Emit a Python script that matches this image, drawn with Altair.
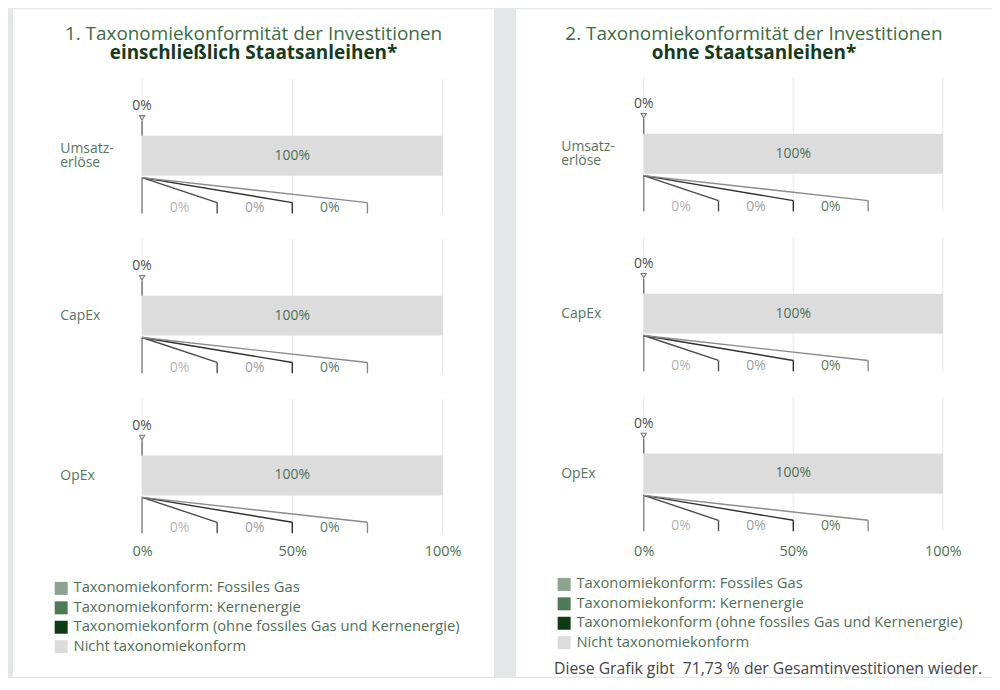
import json
import altair as alt
import pandas as pd

# ---------------- data ----------------
categories = ["Umsatzerlöse", "CapEx", "OpEx"]
category_lines = [["Umsatz-", "erlöse"], ["CapEx"], ["OpEx"]]
segments = [
    "Taxonomiekonform: Fossiles Gas",
    "Taxonomiekonform: Kernenergie",
    "Taxonomiekonform (ohne fossiles Gas und Kernenergie)",
    "Nicht taxonomiekonform",
]
# values in % for Umsatzerlöse, CapEx, OpEx
incl_fossil = [0, 0, 0]
incl_nuclear = [0, 0, 0]
incl_other = [0, 0, 0]
incl_not = [100, 100, 100]

excl_fossil = [0, 0, 0]
excl_nuclear = [0, 0, 0]
excl_other = [0, 0, 0]
excl_not = [100, 100, 100]

titles = ["1. Taxonomiekonformität der Investitionen",
          "2. Taxonomiekonformität der Investitionen"]
subtitles = ["einschließlich Staatsanleihen*", "ohne Staatsanleihen*"]
x_ticks = [0, 50, 100]
footer_text = "Diese Grafik gibt\u00a0 71,73 % der Gesamtinvestitionen wieder."

# ---------------- styles / layout ----------------
SEG_COLORS = ["#8ba38f", "#4e7a56", "#0c3b14", "#dcdcdc"]
CALLOUT_SLOTS = [25, 50, 75]          # where the exploded green segments are shown
CALLOUT_LINE = ["#4a4a4a", "#303030", "#8a8a8a"]
CALLOUT_TEXT = ["#b4b4b4", "#a0a0a0", "#587a5e"]
FONT = "Open Sans"
PITCH = 160.5                          # px per category row
LINE_H = 14                            # px line height of row labels
BAR_H = 0.1246                          # half bar height (row units)
GRID_TOP, BASE = -0.48, 0.361
CALL_START, CALL_END = 0.137, 0.293
LABEL_Y = 0.330
TOP_LABEL, TRI, CONN_TOP = -0.31, -0.237, -0.218
LABEL_GREEN = "#4f6f57"


def pct(v):
    return f"{v:g}%"


def build_panel(series, title, subtitle, W, H, x0_px, ppu, c0_px,
                legend_x, legend_y, ylab_off):
    xs = alt.Scale(domain=[-x0_px / ppu, (W - x0_px) / ppu], nice=False, zero=False)
    ys = alt.Scale(domain=[-c0_px / PITCH, (H - c0_px) / PITCH],
                   nice=False, zero=False, reverse=True)

    expr = "''"
    for i in reversed(range(len(categories))):
        expr = (f"round(datum.value) === {i} ? "
                f"{json.dumps(category_lines[i], ensure_ascii=False)} : {expr}")
    # centre multi-line labels on their bar
    y_label_pos = [i - (len(category_lines[i]) - 1) * LINE_H / 2 / PITCH
                   for i in range(len(categories))]

    x_axis = alt.Axis(values=x_ticks, labelExpr="datum.value + '%'", domain=False,
                      ticks=False, grid=False, labelPadding=2, offset=-135,
                      title=None, labelFontSize=14.5, labelColor="#4b7052",
                      labelFont=FONT)
    y_axis = alt.Axis(values=y_label_pos, labelExpr=expr,
                      domain=False, ticks=False, grid=False, labelAlign="left",
                      labelPadding=0, offset=-ylab_off, title=None,
                      labelFontSize=14, labelColor="#56755f", labelFont=FONT,
                      labelLineHeight=LINE_H, labelBaseline="middle")

    def X(f):
        return alt.X(f, type="quantitative", scale=xs, axis=x_axis)

    def Y(f):
        return alt.Y(f, type="quantitative", scale=ys, axis=y_axis)

    # tables
    bars, grid, tops, calls, zero_v, vals = [], [], [], [], [], []
    for i, cat in enumerate(categories):
        cum = 0
        for s, seg in enumerate(segments):
            v = series[s][i]
            bars.append(dict(cat=cat, segment=seg, x0=cum, x1=cum + v,
                             y0=i - BAR_H, y1=i + BAR_H))
            cum += v
        for g in x_ticks:
            grid.append(dict(x=g, y0=i + GRID_TOP, y1=i + BASE))
        green_total = sum(series[s][i] for s in range(3))
        tops.append(dict(x=green_total, label=pct(green_total), ylab=i + TOP_LABEL,
                         ytri=i + TRI, yc0=i + CONN_TOP, yc1=i - BAR_H))
        vals.append(dict(x=green_total + series[3][i] / 2, y=i, label=pct(series[3][i])))
        zero_v.append(dict(x=0, y0=i + CALL_START, y1=i + BASE))
        prev = 0
        for k in range(3):
            calls.append(dict(k=k, x0=0, y0=i + CALL_START, x1=CALLOUT_SLOTS[k],
                              y1=i + CALL_END, yb=i + BASE,
                              xl=(prev + CALLOUT_SLOTS[k]) / 2, yl=i + LABEL_Y,
                              label=pct(series[k][i])))
            prev = CALLOUT_SLOTS[k]

    grid_df = pd.DataFrame(grid)
    bars_df = pd.DataFrame(bars)
    tops_df = pd.DataFrame(tops)
    vals_df = pd.DataFrame(vals)
    zero_df = pd.DataFrame(zero_v)
    calls_df = pd.DataFrame(calls)

    layers = []
    layers.append(alt.Chart(grid_df).mark_rule(color="#e8e8e8", strokeWidth=1).encode(
        x=X("x"), y=Y("y0"), y2="y1"))
    layers.append(alt.Chart(bars_df).mark_bar().encode(
        x=X("x0"), x2="x1", y=Y("y0"), y2="y1",
        color=alt.Color("segment:N", sort=segments,
                        scale=alt.Scale(domain=segments, range=SEG_COLORS),
                        legend=alt.Legend(title=None, orient="none",
                                          legendX=legend_x, legendY=legend_y,
                                          direction="vertical", symbolType="square",
                                          symbolSize=170, symbolStrokeWidth=0,
                                          labelFontSize=14.8, labelColor=LABEL_GREEN,
                                          labelFont=FONT, rowPadding=3.5,
                                          labelOffset=5, padding=0, labelLimit=0))))
    layers.append(alt.Chart(vals_df).mark_text(fontSize=14, color="#4f6f55", font=FONT,
                                               baseline="middle").encode(
        x=X("x"), y=Y("y"), text="label:N"))
    layers.append(alt.Chart(tops_df).mark_text(fontSize=14, color="#505050", font=FONT,
                                               baseline="middle").encode(
        x=X("x"), y=Y("ylab"), text="label:N"))
    layers.append(alt.Chart(tops_df).mark_rule(color="#7a7a7a", strokeWidth=1.5).encode(
        x=X("x"), y=Y("yc0"), y2="yc1"))
    layers.append(alt.Chart(tops_df).mark_point(shape="triangle-down", filled=False,
                                                size=28, color="#7a7a7a",
                                                strokeWidth=1.1, opacity=1).encode(
        x=X("x"), y=Y("ytri")))
    layers.append(alt.Chart(zero_df).mark_rule(color="#8a8a8a", strokeWidth=1.5).encode(
        x=X("x"), y=Y("y0"), y2="y1"))
    for k in range(3):
        sub = calls_df[calls_df.k == k]
        layers.append(alt.Chart(sub).mark_rule(color=CALLOUT_LINE[k], strokeWidth=1.4).encode(
            x=X("x0"), x2="x1", y=Y("y0"), y2="y1"))
        layers.append(alt.Chart(sub).mark_rule(color=CALLOUT_LINE[k], strokeWidth=1.4).encode(
            x=X("x1"), y=Y("y1"), y2="yb"))
        layers.append(alt.Chart(sub).mark_text(fontSize=14, color=CALLOUT_TEXT[k], font=FONT,
                                               baseline="middle").encode(
            x=X("xl"), y=Y("yl"), text="label:N"))

    return alt.layer(*layers).properties(
        width=W, height=H,
        title=alt.TitleParams(text=title, subtitle=subtitle, anchor="middle",
                              frame="group", offset=-54, fontSize=19,
                              fontWeight="normal", color="#3d6b45", font=FONT,
                              subtitleFont=FONT, subtitleFontSize=19,
                              subtitleFontWeight="bold", subtitleColor="#163b1b",
                              subtitlePadding=0))


H = 670
left = build_panel([incl_fossil, incl_nuclear, incl_other, incl_not], titles[0], subtitles[0],
                   W=483, H=H, x0_px=129.6, ppu=3.017, c0_px=147,
                   legend_x=41, legend_y=574, ylab_off=47)
right = build_panel([excl_fossil, excl_nuclear, excl_other, excl_not], titles[1], subtitles[1],
                    W=478, H=H, x0_px=128.3, ppu=3.004, c0_px=145,
                    legend_x=41, legend_y=570, ylab_off=45)

chart = alt.hconcat(left, right, spacing=22).resolve_scale(
    x="independent", y="independent", color="independent"
).resolve_legend(color="independent").properties(
    padding={"left": 5, "top": 0, "right": 0, "bottom": 0},
    title=alt.TitleParams(footer_text, orient="bottom", anchor="end", offset=-15,
                          dx=-10, fontSize=15.8, fontWeight="normal", color="#444444",
                          font=FONT),
).configure(background="#e4e7e7", font=FONT).configure_view(fill="white", strokeWidth=0)

chart.save("out.html", embed_options={"renderer": "svg", "actions": False})
